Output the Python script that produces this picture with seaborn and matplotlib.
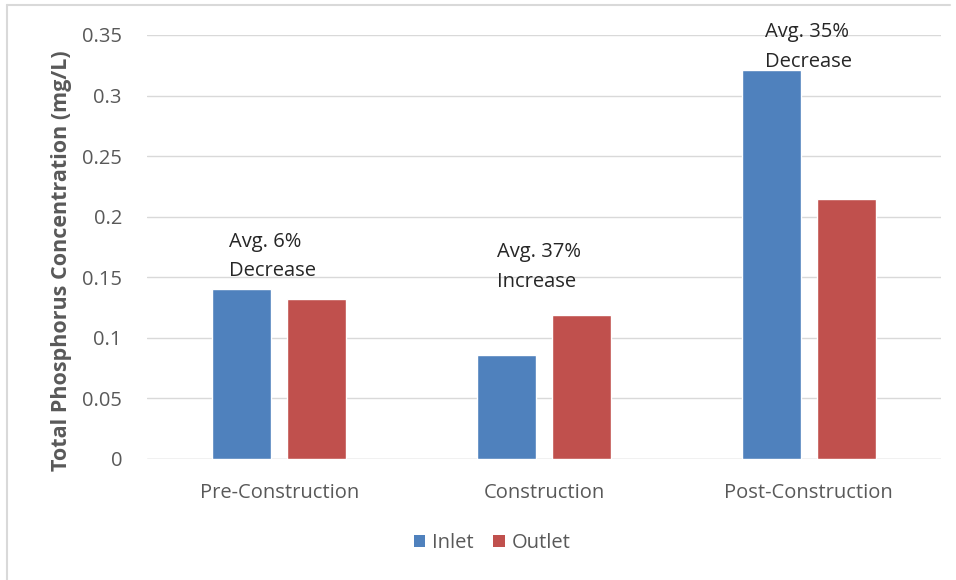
import matplotlib
matplotlib.use("Agg")
import matplotlib.pyplot as plt
import seaborn as sns
import pandas as pd
from matplotlib.patches import Patch
from matplotlib.lines import Line2D

categories = ["Pre-Construction", "Construction", "Post-Construction"]
inlet = [0.140, 0.086, 0.321]
outlet = [0.132, 0.119, 0.215]
series = ["Inlet", "Outlet"]
annotations = ["Avg. 6%\nDecrease", "Avg. 37%\nIncrease", "Avg. 35%\nDecrease"]
yticks = [0, 0.05, 0.1, 0.15, 0.2, 0.25, 0.3, 0.35]
ytick_labels = ["0", "0.05", "0.1", "0.15", "0.2", "0.25", "0.3", "0.35"]

df = pd.DataFrame({
    "Phase": categories * 2,
    "Series": ["Inlet"] * 3 + ["Outlet"] * 3,
    "TP": inlet + outlet,
})

sns.set_theme(style="white")
plt.rcParams["font.family"] = ["Open Sans", "DejaVu Sans"]

W, H = 956, 580
fig = plt.figure(figsize=(W / 100, H / 100), dpi=100)
ax = fig.add_axes([147 / W, 1 - 459 / H, (941 - 147) / W, (459 - 35) / H])

palette = {"Inlet": "#4F81BD", "Outlet": "#C0504D"}
sns.barplot(data=df, x="Phase", y="TP", hue="Series", order=categories,
            hue_order=series, palette=palette, width=0.567, gap=0.21,
            saturation=1, ax=ax, legend=False, zorder=3)

ax.set_xlim(-0.5, 2.5)
ax.set_ylim(0, 0.35)
ax.set_yticks(yticks)
ax.set_yticklabels(ytick_labels)
ax.yaxis.grid(True, color="#D9D9D9", linewidth=1, zorder=0)
ax.set_axisbelow(True)
for s in ax.spines.values():
    s.set_visible(False)
ax.axhline(0, color="#D9D9D9", linewidth=1, zorder=1)

ax.tick_params(axis="y", length=0, pad=18, labelsize=14.5, labelcolor="#595959")
ax.tick_params(axis="x", length=0, pad=17, labelsize=14.5, labelcolor="#595959")
ax.set_xlabel("")
ax.set_ylabel("Total Phosphorus Concentration (mg/L)", fontsize=15.5,
              fontweight="bold", color="#595959", va="center")
ax.yaxis.set_label_coords((62 - 147) / 794, (459 - 261) / 424)

ann_x = [-0.19, 0.822, 1.835]
ann_y = [0.1875, 0.1792, 0.3605]
for x, y, t in zip(ann_x, ann_y, annotations):
    ax.text(x, y, t, ha="left", va="top", fontsize=14.5, color="#262626",
            linespacing=1.64, clip_on=False, zorder=5)

handles = [Patch(facecolor=palette[s], edgecolor="none") for s in series]
fig.legend(handles, series, loc="center", bbox_to_anchor=(492 / W, 1 - 543 / H),
           ncol=2, frameon=False, fontsize=14.5, labelcolor="#595959",
           handlelength=0.55, handleheight=0.55, handletextpad=0.35,
           columnspacing=1.0)

# chart border (left and top edges visible)
fig.add_artist(Line2D([7 / W, 7 / W], [0, 1 - 5 / H], transform=fig.transFigure,
                      color="#D9D9D9", linewidth=1.5))
fig.add_artist(Line2D([7 / W, 950 / W], [1 - 5 / H, 1 - 5 / H], transform=fig.transFigure,
                      color="#D9D9D9", linewidth=1.5))

fig.savefig("out.png", dpi=100)
